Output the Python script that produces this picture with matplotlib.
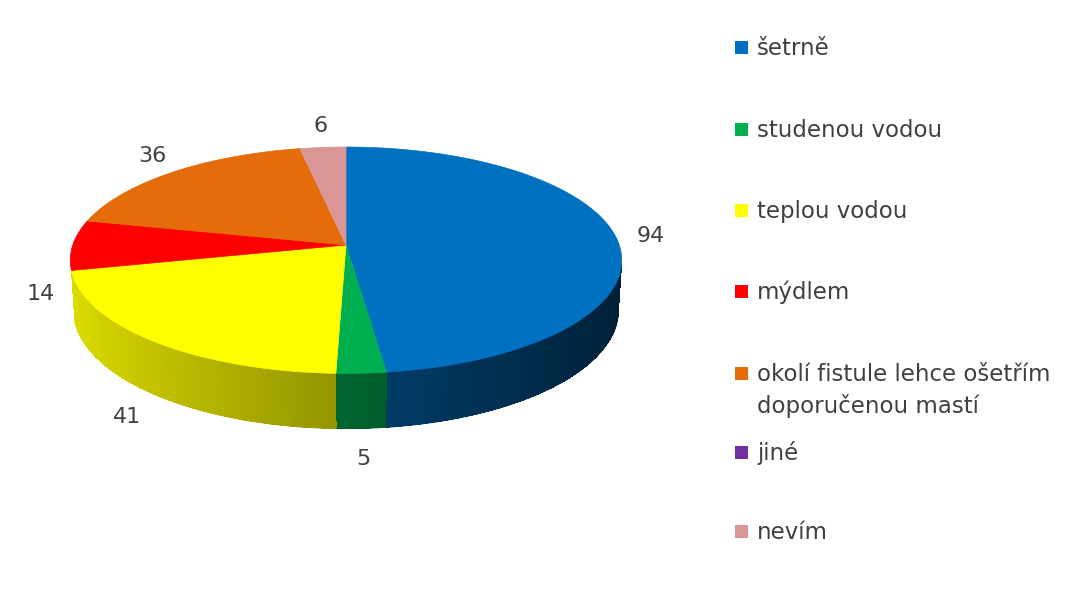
import numpy as np
import matplotlib.pyplot as plt
from matplotlib.patches import Polygon, Rectangle
from matplotlib.collections import PolyCollection

# survey answers
labels = ["šetrně", "studenou vodou", "teplou vodou", "mýdlem",
          "okolí fistule lehce ošetřím\ndoporučenou mastí", "jiné", "nevím"]
values = [94, 5, 41, 14, 36, 0, 6]
colors = ["#0070C0", "#00B050", "#FFFF00", "#FF0000", "#E46C0A", "#7030A0", "#D99694"]

W, H = 1078, 595
fig = plt.figure(figsize=(W / 100, H / 100), dpi=100)
ax = fig.add_axes([0, 0, 1, 1])
ax.set_xlim(0, W)
ax.set_ylim(H, 0)
ax.axis("off")

FONT = ["DejaVu Sans"]
TXT = "#404040"

# simple perspective camera looking down on a flat cylinder
CX, CY = 346, 245
TILT = np.radians(24)
DIST = 6.8
FOCAL = 1858
DEPTH = 0.2


def project(theta, r=1.0, z=0.0):
    x = r * np.sin(theta)
    y = r * np.cos(theta)
    s, c = np.sin(TILT), np.cos(TILT)
    w = DIST + y * c - z * s
    return CX + FOCAL * x / w, CY - FOCAL * (y * s + z * c) / w


def shade(theta):
    # light from the left: bright on the left wall, dark on the right
    return 0.57 - 0.3 * np.sin(theta)


def darker(color, f):
    rgb = np.array(plt.matplotlib.colors.to_rgb(color))
    return tuple(np.clip(rgb * f, 0, 1))


total = sum(values)
edges = np.cumsum([0] + values) / total * 2 * np.pi

# the wall faces the camera where cos(theta) < -1 / (DIST * cos(TILT));
# on the left it is seen edge-on, so trim it a bit there
limit = np.arccos(-1 / (DIST * np.cos(TILT)))
side_lo, side_hi = limit, 2 * np.pi - limit - 0.065

for i, col in enumerate(colors):
    lo, hi = max(edges[i], side_lo), min(edges[i + 1], side_hi)
    if hi <= lo:
        continue
    ts = np.linspace(lo, hi, max(int((hi - lo) / 0.008), 1) + 1)
    quads, fcs = [], []
    for t0, t1 in zip(ts[:-1], ts[1:]):
        quads.append([project(t0), project(t1), project(t1, z=-DEPTH), project(t0, z=-DEPTH)])
        fcs.append(darker(col, shade((t0 + t1) / 2)))
    ax.add_collection(PolyCollection(quads, facecolors=fcs, edgecolors="none",
                                     antialiased=False))
    # smooth lower rim
    bx, by = zip(*[project(t, z=-DEPTH) for t in ts])
    for j in range(len(ts) - 1):
        ax.plot(bx[j:j + 2], by[j:j + 2], color=fcs[j], lw=0.8, solid_capstyle="butt")

# top face
for i, col in enumerate(colors):
    a0, a1 = edges[i], edges[i + 1]
    if a1 - a0 <= 0:
        continue
    ts = np.linspace(a0, a1, max(int((a1 - a0) / 0.01), 2))
    pts = [(CX, CY)] + [project(t) for t in ts]
    ax.add_patch(Polygon(pts, closed=True, facecolor=col, edgecolor=col, lw=0.5))

# value labels
for i, v in enumerate(values):
    if v == 0:
        continue
    mid = (edges[i] + edges[i + 1]) / 2
    z = -DEPTH if np.cos(mid) < 0 else 0.0
    lx, ly = project(mid, r=1.13, z=z)
    ly -= 10 * np.cos(mid)
    ax.text(lx, ly, str(v), ha="center", va="center", fontsize=16,
            color=TXT, family=FONT)

# legend, one text line at a time
leg_y = [47, 129, 210, 291, 373, 452, 531]
for lab, col, y in zip(labels, colors, leg_y):
    ax.add_patch(Rectangle((735, y - 6), 13, 13, facecolor=col, edgecolor="none"))
    for k, line in enumerate(lab.split("\n")):
        ax.text(757, y + 8 + 32 * k, line, ha="left", va="baseline", fontsize=16.5,
                color=TXT, family=FONT)

fig.savefig("out.png", dpi=100, facecolor="white")
